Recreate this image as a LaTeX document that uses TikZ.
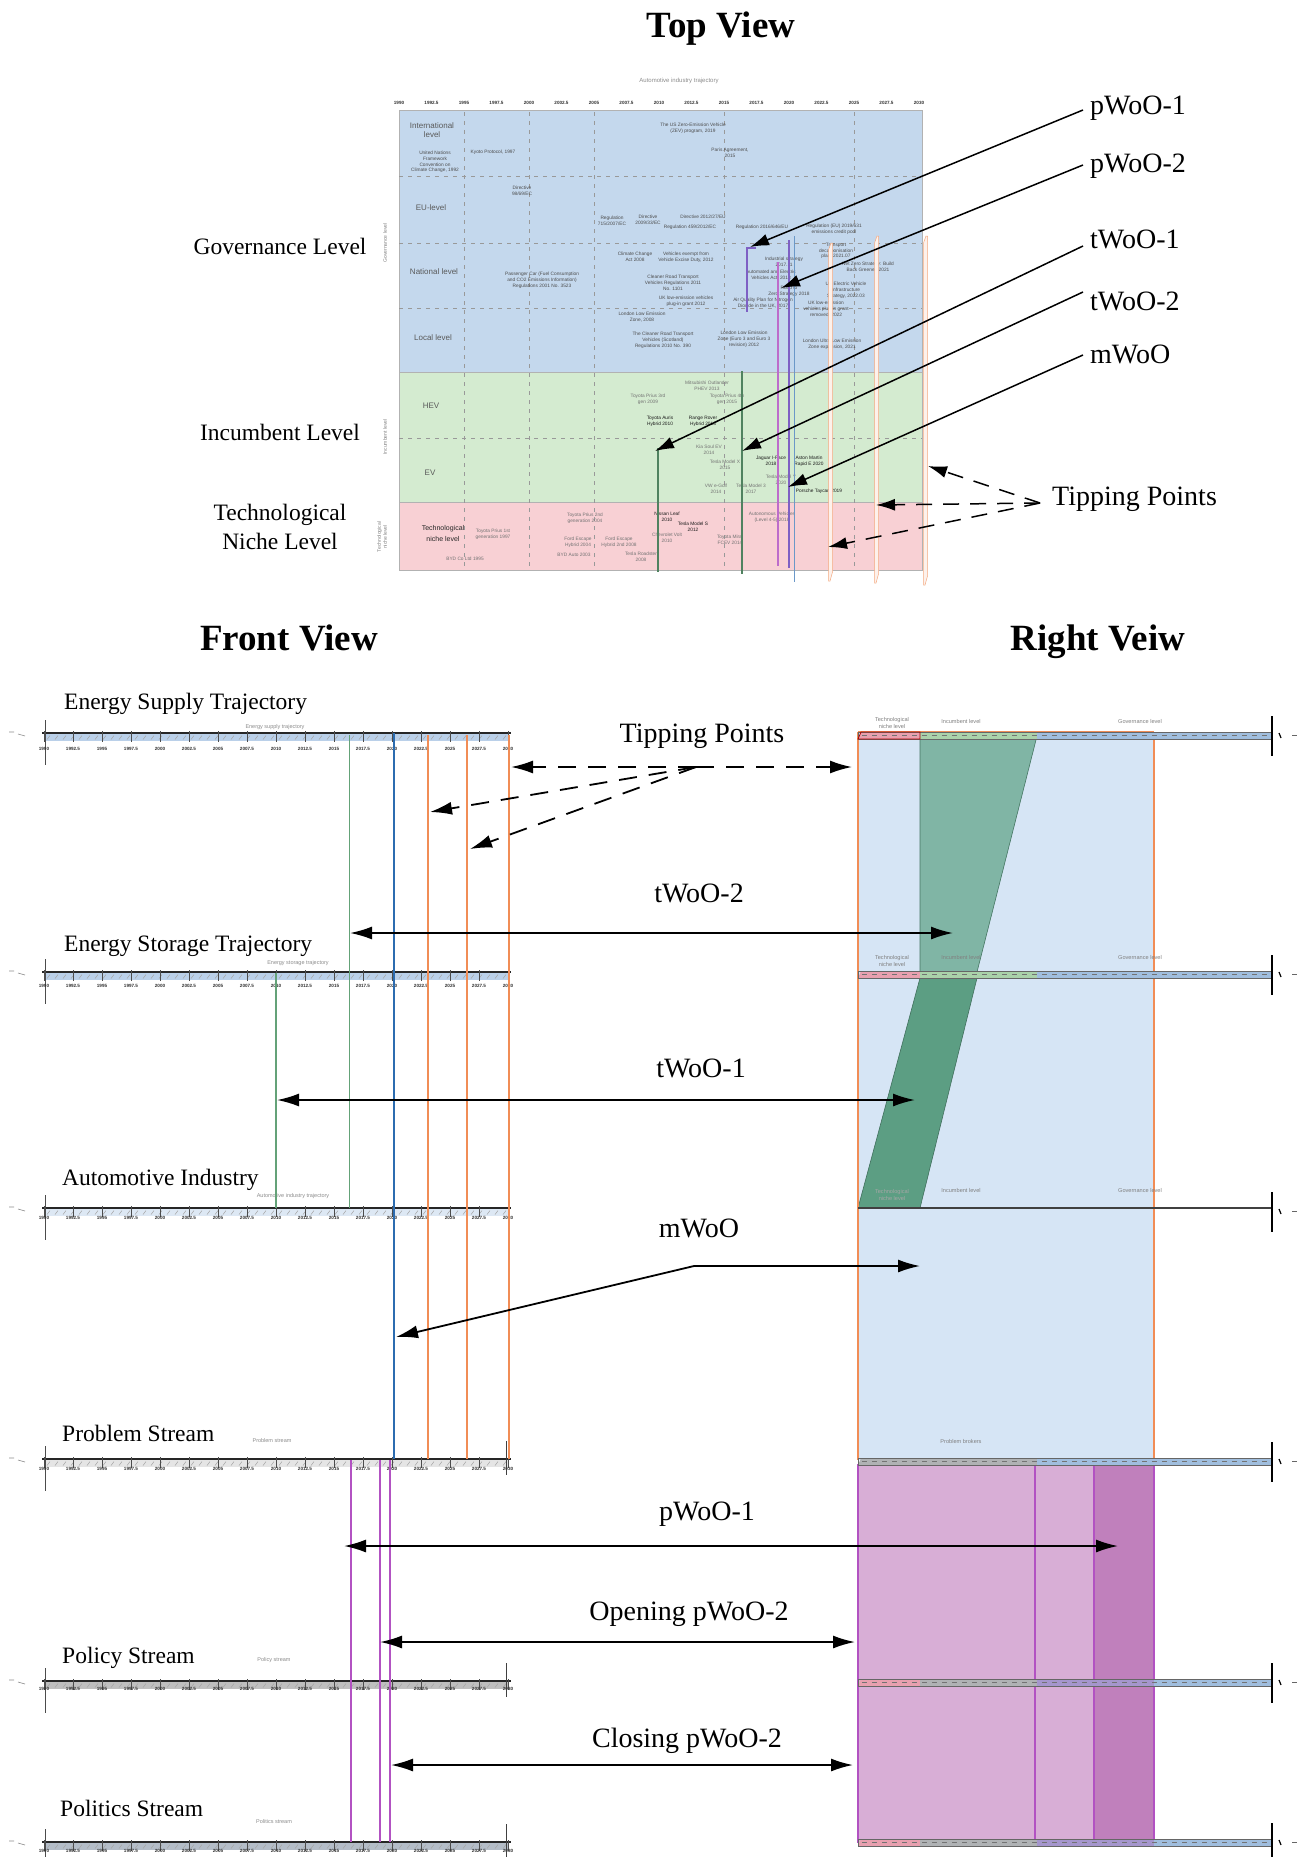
\documentclass[tikz,border=0pt]{standalone}
\usepackage{fontspec}
\setmainfont{Liberation Serif}
\newfontfamily\chartfont{Liberation Sans}
\usetikzlibrary{arrows.meta}

\definecolor{tvblue}{RGB}{196,216,237}
\definecolor{tvgreen}{RGB}{212,235,208}
\definecolor{tvpink}{RGB}{248,208,212}
\definecolor{rvblue}{RGB}{214,229,245}
\definecolor{rvteal}{RGB}{128,181,165}
\definecolor{rvgreen}{RGB}{92,158,131}
\definecolor{rvpurple}{RGB}{216,174,214}
\definecolor{rvpurpled}{RGB}{192,128,188}
\definecolor{lpurple}{RGB}{178,82,194}
\definecolor{lorange}{RGB}{241,141,86}
\definecolor{lblue}{RGB}{44,108,176}
\definecolor{lgreen}{RGB}{100,162,120}
\definecolor{lviolet}{RGB}{126,96,196}
\definecolor{bandblue}{RGB}{186,208,233}
\definecolor{barpink}{RGB}{232,160,175}
\definecolor{bargreen}{RGB}{170,210,170}
\definecolor{barblue}{RGB}{160,190,222}
\definecolor{bargrey}{RGB}{175,178,180}
\definecolor{barviolet}{RGB}{165,150,205}

\def\yrlist{1990,1992.5,1995,1997.5,2000,2002.5,2005,2007.5,2010,2012.5,2015,2017.5,2020,2022.5,2025,2027.5,2030}

\tikzset{
  viewtitle/.style={font=\bfseries\fontsize{37}{40}\selectfont, anchor=base, inner sep=0},
  streamtitle/.style={font=\fontsize{23.5}{26}\selectfont, anchor=base west, inner sep=0},
  levellabel/.style={font=\fontsize{23.5}{26}\selectfont, anchor=base, inner sep=0},
  woolabel/.style={font=\fontsize{28}{30}\selectfont, anchor=base, inner sep=0},
  tinytxt/.style={font=\chartfont\fontsize{4.8}{5.8}\selectfont, text=black!70, align=center, inner sep=0},
  softtxt/.style={tinytxt, text=black!55},
  darktxt/.style={tinytxt, text=black!90},
  yrlbl/.style={font=\chartfont\bfseries\fontsize{4.6}{5}\selectfont, text=black!80, inner sep=0},
  greylbl/.style={font=\chartfont\fontsize{6}{7}\selectfont, text=black!45, align=center, inner sep=0},
  smallgrey/.style={font=\chartfont\fontsize{5.5}{6}\selectfont, text=black!45, inner sep=0},
  sidelbl/.style={font=\chartfont\fontsize{5}{6}\selectfont, text=black!50, align=center, inner sep=0, rotate=90},
  rowlbl/.style={font=\chartfont\fontsize{8}{9.5}\selectfont, text=black!65, align=center, inner sep=0},
  barlbl/.style={font=\chartfont\fontsize{5.6}{6.4}\selectfont, text=black!50, align=center, inner sep=0},
  gdash/.style={black!40, line width=0.6, dash pattern=on 4pt off 5pt},
  onehead/.style={-{Latex[length=22pt,width=13pt]}},
  twoheads/.style={{Latex[length=22pt,width=13pt]}-{Latex[length=22pt,width=13pt]}},
  conn/.style={line width=1.8pt, black},
  dconn/.style={conn, dash pattern=on 18pt off 12pt},
  tvconn/.style={line width=1.5pt, black, -{Latex[length=19pt,width=12pt]}},
  tvdconn/.style={tvconn, dash pattern=on 16pt off 11pt},
}

% time axis of one front-view trajectory:
% #1 axis height, #2 band colour, #3 axis line width, #4 offset of the year labels
\newcommand\frontaxis[4]{%
  \fill[#2] (44,{#1+1}) rectangle (509,{#1+8});
  \foreach \k in {0,...,57}{\draw[black!35, line width=0.5] ({47+\k*8},{#1+6.5}) -- ++(3,-4);}
  \draw[black!85, line width=#3] (42,#1) -- (511,#1);
  \draw[black!70, line width=0.7] (45,{#1-13}) -- (45,{#1+32});
  \draw[black!45, line width=0.6] (9,{#1-1}) -- (14,{#1-1}) (18,{#1+1}) -- (25,{#1+3});
  \foreach \yr [count=\k from 0] in \yrlist {%
    \draw[black!70, line width=0.5] ({44+\k*29},{#1-2}) -- ({44+\k*29},{#1+9});
    \node[yrlbl] (fy#1n\k) at ({44+\k*29},{#1+#4}) {\yr};}
}

% end marker at the right of a right-view bar, #1 bar height
\newcommand\rvend[1]{%
  \draw[black, line width=1.4] (1272,{#1-16}) -- (1272,{#1+24});
  \draw[black, line width=1.2] (1279,{#1+1}) -- (1281,{#1+6});
  \draw[black!60, line width=0.6] (1292,{#1+3}) -- (1297,{#1+3});
}

% stacked bar of the right view: #1 top edge, #2 niche part, #3 incumbent part,
% #4 governance part, #5 part beyond the window
\newcommand\rightbar[5]{%
  \fill[#2] (861,#1) -- (920,#1) -- (920,{#1+7}) -- (858,{#1+7}) -- cycle;
  \fill[#3] (920,#1) rectangle (1037,{#1+7});
  \fill[#4] (1037,#1) rectangle (1154,{#1+7});
  \fill[#5] (1154,#1) rectangle (1272,{#1+7});
  \foreach \k in {0,...,40}{\draw[black!55, line width=0.6] ({862+\k*10},{#1+3.5}) -- ++(5,0);}
  \draw[black!60, line width=0.6] (858,#1) rectangle (1272,{#1+7});
  \rvend{#1}
}

% tipping point marker of the top view: #1 x, #2 top, #3 bottom
\newcommand\tpbar[3]{%
  \filldraw[fill=lorange!12, draw=lorange!75, line width=0.5]
    ({#1-1.5},{#2+7}) -- ({#1+1},#2) -- ({#1+2.5},#2) -- ({#1+2.5},#3) -- (#1,{#3+9}) -- ({#1-1.5},{#3+9}) -- cycle;
}

\begin{document}
\begin{tikzpicture}[x=1pt, y=-1pt]
\fill[white] (0,0) rectangle (1296,1857);
\useasboundingbox (0,0) rectangle (1296,1857);

% =================== Top view ===================
\node[viewtitle] (ttl-top) at (721,38) {Top View};

\node[greylbl] (tv-head) at (679,81) {Automotive industry trajectory};
\foreach \yr [count=\k from 0] in \yrlist {\node[yrlbl] (ty\k) at ({399+\k*32.5},103) {\yr};}

\fill[tvblue] (399,110) rectangle (922,372);
\fill[tvgreen] (399,372) rectangle (922,502);
\fill[tvpink] (399,502) rectangle (922,570);
\draw[black!30, line width=0.6] (399,110) rectangle (922,570) (399,372) -- (922,372) (399,502) -- (922,502);
\draw[gdash] (399,176) -- (922,176) (399,243) -- (922,243) (399,308) -- (922,308) (399,438) -- (922,438);
\foreach \xx in {464,529,594,724,854} \draw[gdash] (\xx,112) -- (\xx,568);

\node[rowlbl] (r-int) at (432,130) {International\\level};
\node[rowlbl] (r-eu) at (431,208) {EU-level};
\node[rowlbl] (r-nat) at (434,272) {National level};
\node[rowlbl] (r-loc) at (433,338) {Local level};
\node[rowlbl] (r-hev) at (431,406) {HEV};
\node[rowlbl] (r-ev) at (430,473) {EV};
\node[rowlbl, text=black!85, font=\chartfont\fontsize{7}{11}\selectfont] (r-tn) at (443,533) {Technological\\niche level};

\node[sidelbl] (s-gov) at (385,243) {Governance level};
\node[sidelbl] (s-inc) at (385,437) {Incumbent level};
\node[sidelbl] (s-tn) at (382,537) {Technological\\niche level};

% events on the governance rows
\node[tinytxt] (tx01) at (435,162) {United Nations\\Framework\\Convention on\\Climate Change, 1992};
\node[tinytxt] (tx02) at (493,152) {Kyoto Protocol, 1997};
\node[tinytxt] (tx03) at (693,128) {The US Zero-Emission Vehicle\\(ZEV) program, 2019};
\node[tinytxt] (tx04) at (730,153) {Paris Agreement,\\2015};
\node[tinytxt] (tx05) at (522,191) {Directive\\98/69/EC};
\node[tinytxt] (tx06) at (612,221) {Regulation\\715/2007/EC};
\node[tinytxt] (tx07) at (648,220) {Directive\\2009/33/EC};
\node[tinytxt] (tx08) at (703,217) {Directive 2012/27/EU};
\node[tinytxt] (tx09) at (690,227) {Regulation 459/2012/EC};
\node[tinytxt] (tx10) at (762,227) {Regulation 2016/646/EU};
\node[tinytxt] (tx11) at (834,229) {Regulation (EU) 2019/631\\emissions credit pool};
\node[tinytxt] (tx12) at (635,257) {Climate Change\\Act 2008};
\node[tinytxt] (tx13) at (686,257) {Vehicles exempt from\\Vehicle Excise Duty, 2012};
\node[tinytxt] (tx14) at (542,280) {Passenger Car (Fuel Consumption\\and CO2 Emissions Information)\\Regulations 2001 No. 3523};
\node[tinytxt] (tx15) at (673,283) {Cleaner Road Transport\\Vehicles Regulations 2011\\No. 1101};
\node[tinytxt] (tx16) at (686,301) {UK low-emission vehicles\\plug-in grant 2012};
\node[tinytxt] (tx17) at (784,262) {Industrial strategy\\2017.11};
\node[tinytxt] (tx18) at (771,275) {Automated and Electric\\Vehicles Act, 2018};
\node[tinytxt] (tx19) at (789,291) {Road to\\Zero Strategy 2018};
\node[tinytxt] (tx20) at (763,303) {Air Quality Plan for Nitrogen\\Dioxide in the UK, 2017};
\node[tinytxt] (tx21) at (836,251) {Transport\\decarbonisation\\plan, 2021.07};
\node[tinytxt] (tx22) at (868,267) {Net Zero Strategy: Build\\Back Greener, 2021};
\node[tinytxt] (tx23) at (846,290) {UK Electric Vehicle\\Infrastructure\\Strategy, 2022.03};
\node[tinytxt] (tx24) at (826,309) {UK low-emission\\vehicles plug-in grant\\removed, 2022};
\node[tinytxt] (tx25) at (642,317) {London Low Emission\\Zone, 2008};
\node[tinytxt] (tx26) at (663,340) {The Cleaner Road Transport\\Vehicles (Scotland)\\Regulations 2010 No. 390};
\node[tinytxt] (tx27) at (744,339) {London Low Emission\\Zone (Euro 3 and Euro 3\\revision) 2012};
\node[tinytxt] (tx28) at (832,344) {London Ultra Low Emission\\Zone expansion, 2021};

% events on the incumbent and niche rows
\node[softtxt] (tx29) at (707,386) {Mitsubishi Outlander\\PHEV 2013};
\node[softtxt] (tx30) at (648,399) {Toyota Prius 3rd\\gen 2009};
\node[softtxt] (tx31) at (727,399) {Toyota Prius 4th\\gen 2015};
\node[darktxt] (tx32) at (660,421) {Toyota Auris\\Hybrid 2010};
\node[darktxt] (tx33) at (703,421) {Range Rover\\Hybrid 2013};
\node[softtxt] (tx34) at (709,450) {Kia Soul EV\\2014};
\node[softtxt] (tx35) at (725,465) {Tesla Model X\\2015};
\node[darktxt] (tx36) at (771,461) {Jaguar I-Pace\\2018};
\node[darktxt] (tx37) at (809,461) {Aston Martin\\Rapid E 2020};
\node[softtxt] (tx38) at (781,480) {Tesla Model Y\\2020};
\node[softtxt] (tx39) at (716,489) {VW e-Golf\\2014};
\node[softtxt] (tx40) at (751,489) {Tesla Model 3\\2017};
\node[darktxt] (tx41) at (819,491) {Porsche Taycan 2019};
\node[softtxt] (tx42) at (585,518) {Toyota Prius 2nd\\generation 2004};
\node[darktxt] (tx43) at (667,517) {Nissan Leaf\\2010};
\node[darktxt] (tx44) at (693,527) {Tesla Model S\\2012};
\node[softtxt] (tx45) at (493,534) {Toyota Prius 1st\\generation 1997};
\node[softtxt] (tx46) at (578,542) {Ford Escape\\Hybrid 2004};
\node[softtxt] (tx47) at (619,542) {Ford Escape\\Hybrid 2nd 2008};
\node[softtxt] (tx48) at (667,538) {Chevrolet Volt\\2010};
\node[softtxt] (tx49) at (772,517) {Autonomous Vehicles\\(Level 4-5) 2018};
\node[softtxt] (tx50) at (730,540) {Toyota Mirai\\FCEV 2014};
\node[softtxt] (tx51) at (574,555) {BYD Auto 2003};
\node[softtxt] (tx52) at (641,557) {Tesla Roadster\\2008};
\node[softtxt] (tx53) at (465,559) {BYD Co Ltd 1995};

% window markers seen from above
\draw[lgreen!80!black, line width=1.3] (658,448) -- (658,572);
\draw[lgreen!80!black, line width=1.3] (742,371) -- (742,574);
\draw[lviolet, line width=1.3] (756,248) -- (747,248) -- (747,312);
\draw[lpurple!85, line width=1.2] (778,262) -- (778,566);
\draw[lviolet, line width=1.2] (789,240) -- (789,568);
\draw[lblue!70, line width=1] (794,236) -- (794,582);
\tpbar{830}{243}{572}
\tpbar{876}{236}{574}
\tpbar{925}{236}{576}

% level names
\node[levellabel] (tl-gov) at (280,254) {Governance Level};
\node[levellabel] (tl-inc) at (280,440) {Incumbent Level};
\node[levellabel] (tl-tn1) at (280,520) {Technological};
\node[levellabel] (tl-tn2) at (280,549) {Niche Level};

% window labels and their pointers
\node[woolabel, anchor=base west] (tl-p1) at (1090,115) {pWoO-1};
\node[woolabel, anchor=base west] (tl-p2) at (1090,172) {pWoO-2};
\node[woolabel, anchor=base west] (tl-t1) at (1090,248) {tWoO-1};
\node[woolabel, anchor=base west] (tl-t2) at (1090,310) {tWoO-2};
\node[woolabel, anchor=base west] (tl-m) at (1090,363) {mWoO};
\node[woolabel, anchor=base west] (tl-tp) at (1052,505) {Tipping Points};

\coordinate (tv-p1s) at (1083,110);
\coordinate (tv-p2s) at (1083,165);
\coordinate (tv-t1s) at (1083,246);
\coordinate (tv-t2s) at (1083,292);
\coordinate (tv-ms) at (1083,355);
\coordinate (tv-p1) at (750,247);
\coordinate (tv-p2) at (781,288);
\coordinate (tv-t1) at (655,451);
\coordinate (tv-t2) at (742,451);
\coordinate (tv-m) at (788,487);
\coordinate (tv-tphub) at (1040,503);
\coordinate (tv-tpa) at (928,466);
\coordinate (tv-tpb) at (876,505);
\coordinate (tv-tpc) at (828,547);

\draw[tvconn] (tv-p1s) -- (tv-p1);
\draw[tvconn] (tv-p2s) -- (tv-p2);
\draw[tvconn] (tv-t1s) -- (tv-t1);
\draw[tvconn] (tv-t2s) -- (tv-t2);
\draw[tvconn] (tv-ms) -- (tv-m);
\draw[tvdconn] (tv-tphub) -- (tv-tpa);
\draw[tvdconn] (tv-tphub) -- (tv-tpb);
\draw[tvdconn] (tv-tphub) -- (tv-tpc);

% =================== Front view ===================
\node[viewtitle] (ttl-front) at (289,650) {Front View};

\frontaxis{733}{bandblue}{1.6}{16}
\frontaxis{972}{bandblue}{1.6}{14}
\frontaxis{1208}{bandblue!50}{2.2}{10}
\frontaxis{1459}{black!10}{1.8}{10}
\frontaxis{1681}{black!25}{2.2}{8}
\frontaxis{1842}{bandblue!70!black!60}{2.4}{9}
\foreach \yy in {1459,1681,1842} \draw[black!75, line width=1] (506,{\yy-18}) -- (506,{\yy+16});

\node[streamtitle] (st-es) at (64,709) {Energy Supply Trajectory};
\node[streamtitle] (st-est) at (64,951) {Energy Storage Trajectory};
\node[streamtitle] (st-ai) at (62,1185) {Automotive Industry};
\node[streamtitle] (st-ps) at (62,1441) {Problem Stream};
\node[streamtitle] (st-pos) at (62,1663) {Policy Stream};
\node[streamtitle] (st-pol) at (60,1816) {Politics Stream};

\node[smallgrey] (sg-es) at (275,727) {Energy supply trajectory};
\node[smallgrey] (sg-est) at (298,963) {Energy storage trajectory};
\node[smallgrey] (sg-ai) at (293,1196) {Automotive industry trajectory};
\node[smallgrey] (sg-ps) at (272,1441) {Problem stream};
\node[smallgrey] (sg-pos) at (274,1660) {Policy stream};
\node[smallgrey] (sg-pol) at (274,1822) {Politics stream};

% window and tipping-point lines through the trajectories
\draw[lgreen, line width=1.4] (349.5,735) -- (349.5,1208);
\draw[lgreen, line width=1.4] (276,973) -- (276,1208);
\draw[lblue, line width=2.2] (394,733) -- (394,1459);
\foreach \xx in {428,467,509} \draw[lorange, line width=2.6] (\xx,735) -- (\xx,1459);
\foreach \xx in {351,380,390} \draw[lpurple, line width=1.3] (\xx,1460) -- (\xx,1842);

% =================== Right view ===================
\node[viewtitle] (ttl-right) at (1098,650) {Right Veiw};

\fill[rvblue] (858,732) rectangle (1154,1460);
\filldraw[fill=rvteal, draw=rvgreen!75!black, line width=0.6] (920,736) -- (1037,736) -- (977,972) -- (920,972) -- cycle;
\filldraw[fill=rvgreen, draw=rvgreen!70!black, line width=0.6] (920,978) -- (977,978) -- (920,1208) -- (858,1208) -- cycle;
\draw[lorange, line width=1.3] (858,732) -- (858,1460) (1154,732) -- (1154,1460) (858,732) -- (1154,732);

\fill[rvpurple] (858,1464) rectangle (1154,1843);
\fill[rvpurpled] (1094,1464) rectangle (1154,1843);
\draw[lpurple, line width=1.1] (858,1464) -- (858,1843) (1035,1464) -- (1035,1843) (1094,1464) -- (1094,1843) (1154,1464) -- (1154,1843);
\draw[lorange, line width=1] (858,1464) -- (1094,1464);

\rightbar{732}{barpink}{bargreen}{barblue}{barblue}
\rightbar{971}{barpink}{bargreen}{barblue}{barblue}
\draw[black!75, line width=1.2] (858,1208) -- (1272,1208);
\rvend{1208}
\rightbar{1458}{bargrey}{bargrey}{barblue}{barblue}
\rightbar{1679}{barpink}{bargrey}{barviolet}{barblue}
\rightbar{1839}{barpink}{bargrey}{barviolet}{barblue}
\draw[red!70!black, line width=0.8] (861,732) -- (920,732) -- (920,739) -- (858,739) -- cycle;

\node[barlbl] (rb-tn1) at (892,723) {Technological\\niche level};
\node[barlbl] (rb-in1) at (961,721) {Incumbent level};
\node[barlbl] (rb-gv1) at (1140,721) {Governance level};
\node[barlbl] (rb-tn2) at (892,961) {Technological\\niche level};
\node[barlbl] (rb-in2) at (961,957) {Incumbent level};
\node[barlbl] (rb-gv2) at (1140,957) {Governance level};
\node[barlbl, text=black!35] (rb-tn3) at (892,1195) {Technological\\niche level};
\node[barlbl] (rb-in3) at (961,1190) {Incumbent level};
\node[barlbl] (rb-gv3) at (1140,1190) {Governance level};
\node[barlbl] (rb-pb) at (961,1441) {Problem brokers};

% =================== Front-to-right connectors ===================
\node[woolabel] (fl-tp) at (702,742) {Tipping Points};
\node[woolabel] (fl-t2) at (699,902) {tWoO-2};
\node[woolabel] (fl-t1) at (701,1077) {tWoO-1};
\node[woolabel] (fl-m) at (699,1237) {mWoO};
\node[woolabel] (fl-p1) at (707,1520) {pWoO-1};
\node[woolabel] (fl-p2o) at (689,1620) {Opening pWoO-2};
\node[woolabel] (fl-p2c) at (687,1747) {Closing pWoO-2};

\coordinate (fw-tphub) at (696,767);
\coordinate (fw-tpa) at (511,767);
\coordinate (fw-tpb) at (852,767);
\coordinate (fw-tpc) at (430,812);
\coordinate (fw-tpd) at (470,849);
\coordinate (fw-t2l) at (350,933);
\coordinate (fw-t2r) at (953,933);
\coordinate (fw-t1l) at (277,1100);
\coordinate (fw-t1r) at (915,1100);
\coordinate (fw-ml) at (396,1337);
\coordinate (fw-mhub) at (694,1266);
\coordinate (fw-mr) at (920,1266);
\coordinate (fw-p1l) at (344,1546);
\coordinate (fw-p1r) at (1118,1546);
\coordinate (fw-p2ol) at (380,1642);
\coordinate (fw-p2or) at (855,1642);
\coordinate (fw-p2cl) at (391,1765);
\coordinate (fw-p2cr) at (853,1765);

\draw[dconn, onehead] (fw-tphub) -- (fw-tpa);
\draw[dconn, onehead] (fw-tphub) -- (fw-tpb);
\draw[dconn, onehead] (fw-tphub) -- (fw-tpc);
\draw[dconn, onehead] (fw-tphub) -- (fw-tpd);
\draw[conn, twoheads] (fw-t2l) -- (fw-t2r);
\draw[conn, twoheads] (fw-t1l) -- (fw-t1r);
\draw[conn, twoheads] (fw-ml) -- (fw-mhub) -- (fw-mr);
\draw[conn, twoheads] (fw-p1l) -- (fw-p1r);
\draw[conn, twoheads] (fw-p2ol) -- (fw-p2or);
\draw[conn, twoheads] (fw-p2cl) -- (fw-p2cr);
\end{tikzpicture}
\end{document}
